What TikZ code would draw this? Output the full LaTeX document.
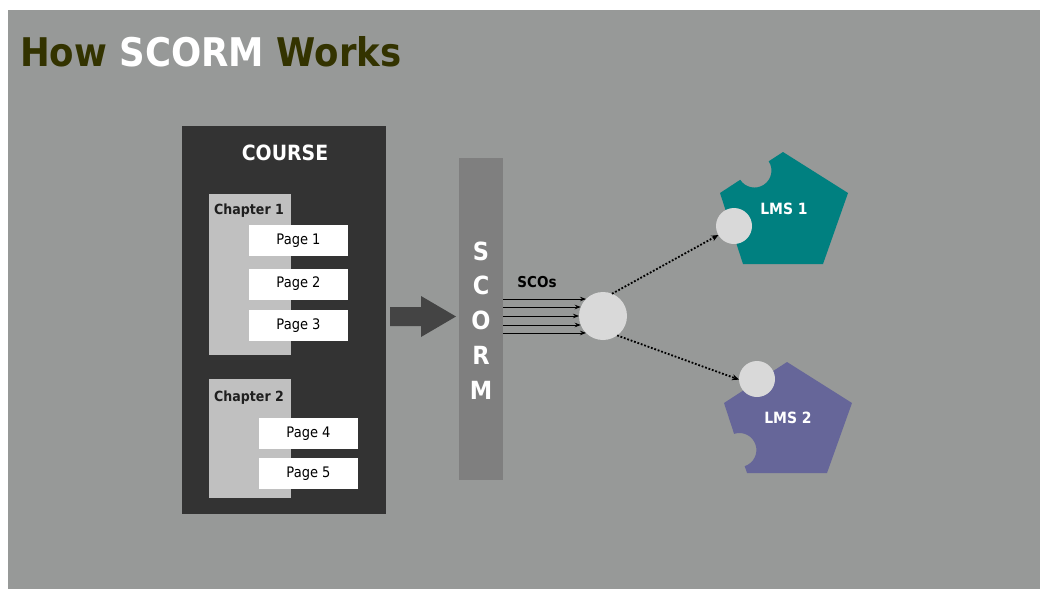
\documentclass[tikz,border=0pt]{standalone}
\usepackage{fontspec}
\setmainfont{DejaVu Sans}[FakeStretch=0.9]
\usetikzlibrary{arrows.meta}
\definecolor{bg}{RGB}{151,153,152}
\definecolor{darkbox}{RGB}{51,51,51}
\definecolor{chapgray}{RGB}{192,192,192}
\definecolor{barGray}{RGB}{127,127,127}
\definecolor{bigarrow}{RGB}{68,68,68}
\definecolor{lightc}{RGB}{217,217,217}
\definecolor{lmsteal}{RGB}{0,128,128}
\definecolor{lmspurple}{RGB}{102,102,153}
\definecolor{titleolive}{RGB}{51,51,0}
\begin{document}
\begin{tikzpicture}[x=1pt,y=-1pt,
  box/.style={rectangle, inner sep=0pt, outer sep=0pt},
  pagebox/.style={box, fill=white, minimum width=99pt, minimum height=31pt, text=black, font=\fontsize{14.5}{16}\selectfont},
  chapbox/.style={box, fill=chapgray, minimum width=82pt},
  chaplab/.style={anchor=base west, inner sep=0pt, text=black!88, font=\bfseries\fontsize{14}{16}\selectfont},
  letter/.style={anchor=base, inner sep=0pt, text=white, font=\bfseries\fontsize{25}{28}\selectfont},
  lmslab/.style={anchor=base, inner sep=0pt, text=white, font=\bfseries\fontsize{15.5}{18}\selectfont},
  dot/.style={circle, fill=lightc, inner sep=0pt, outer sep=0pt},
  scoarrow/.style={line width=0.8pt, -{Stealth[length=6pt,width=4.5pt]}},
  dotarrow/.style={line width=1.8pt, dash pattern=on 1.8pt off 1.8pt, -{Stealth[length=7pt,width=6pt]}}
]
\useasboundingbox (0,0) rectangle (1040,589);
\fill[white] (0,0) rectangle (1040,589);
\fill[bg] (8,10) rectangle (1040,589);

% title
\node[anchor=base west, inner sep=0pt, text=titleolive, font=\bfseries\fontsize{39.5}{47}\selectfont] (title) at (20,66) {How \textcolor{white}{SCORM} Works};

% course
\node[box, fill=darkbox, minimum width=204pt, minimum height=388pt] (course) at (284,320) {};
\node[anchor=base, inner sep=0pt, text=white, font=\bfseries\fontsize{21}{25}\selectfont] (coursel) at (285,160) {COURSE};

\node[chapbox, minimum height=161pt] (ch1) at (250,274.5) {};
\node[chaplab] (ch1l) at (214,214) {Chapter 1};
\node[pagebox] (p1) at (298.5,240.5) {Page 1};
\node[pagebox] (p2) at (298.5,284) {Page 2};
\node[pagebox] (p3) at (298.5,325.5) {Page 3};

\node[chapbox, minimum height=119pt] (ch2) at (250,438.5) {};
\node[chaplab] (ch2l) at (214,401) {Chapter 2};
\node[pagebox] (p4) at (308.5,433.5) {Page 4};
\node[pagebox] (p5) at (308.5,473.5) {Page 5};

% big arrow
\fill[bigarrow] (390,307) -- (421,307) -- (421,296) -- (456,316.5) -- (421,337) -- (421,326) -- (390,326) -- cycle;

% SCORM bar
\node[box, fill=barGray, minimum width=44pt, minimum height=322pt] (scorm) at (481,319) {};
\node[letter] (lS) at (481,260) {S};
\node[letter] (lC) at (481,294.8) {C};
\node[letter] (lO) at (481,329.6) {O};
\node[letter] (lR) at (481,364.4) {R};
\node[letter] (lM) at (481,399.2) {M};

% SCOs
\node[anchor=base, inner sep=0pt, text=black, font=\bfseries\fontsize{15}{18}\selectfont] (scos) at (537,287) {SCOs};
\node[dot, minimum size=48pt] (sco) at (603,316) {};
\foreach \a in {135,158,180,202,225}{
  \draw[scoarrow] (scorm.east |- sco.\a) -- (sco.\a);
}

% LMS 1
\fill[lmsteal] (720,193) -- (740.2,179.8) arc[start angle=-147, end angle=33, radius=17pt] -- (783,152) -- (848,193) -- (823,264) -- (743,264) -- cycle;
\node[lmslab] (lms1) at (784,214) {LMS 1};
\node[dot, minimum size=36pt] (c1) at (734,226) {};

% LMS 2
\fill[lmspurple] (787,362) -- (852,403) -- (827,473) -- (747,473) -- (744.7,466.15) arc[start angle=-71.8, end angle=108.2, radius=17pt] -- (724,403) -- cycle;
\node[lmslab] (lms2) at (788,423) {LMS 2};
\node[dot, minimum size=36pt] (c2) at (757,379) {};

% dotted connectors
\draw[dotarrow] (sco.68) -- (c1.210);
\draw[dotarrow] (sco.-54) -- (c2.182);
\end{tikzpicture}
\end{document}
